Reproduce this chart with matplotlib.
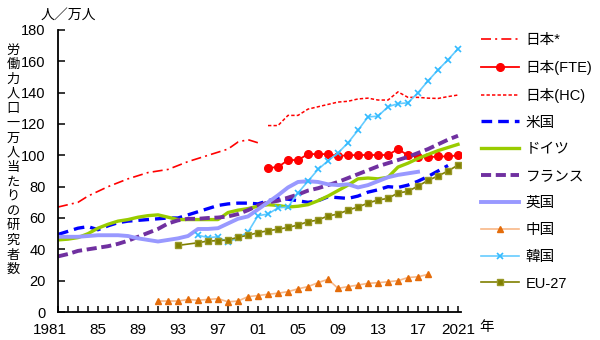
import matplotlib
matplotlib.use("Agg")
import matplotlib.pyplot as plt
from matplotlib.transforms import ScaledTranslation

plt.rcParams['font.family'] = ['Liberation Sans', 'Noto Sans CJK JP']

# ---- data: researchers per 10,000 labour force ----
years_jp_old = list(range(1981, 2002))
japan_old = [67, 68.5, 70, 74, 77, 80, 82.5, 85, 87, 89,
             90, 91, 93.5, 96, 98, 100, 102, 104, 108.5, 110, 108]

years_jp_new = list(range(2002, 2022))
japan_fte = [92, 92.5, 97, 97, 100.8, 100.8, 100.8, 99.6, 100, 100.2,
             100.2, 100.2, 100.2, 104, 100, 99, 98.7, 99.3, 99.3, 100]
japan_hc = [119, 119, 125.5, 125.5, 129.5, 131, 132.5, 134, 134.5, 136,
            136.5, 135.3, 135.3, 140.5, 137, 137, 136.5, 136.3, 137.5, 138.5]

years_us = list(range(1981, 2021))
usa = [49.5, 51.5, 53.5, 54.5, 52.5, 55, 57, 58, 58.5, 59,
       59.5, 60, 60, 62, 64, 66, 68, 69, 69.5, 69.5,
       69, 71, 72.5, 72, 71, 70, 71, 73.5, 73, 72.5,
       74, 76.5, 78, 80, 79.5, 81, 83.5, 86.5, 90, 93.5]

years_all = list(range(1981, 2022))
germany = [46, 46.5, 47.5, 50, 53.5, 56, 58, 59, 60.5, 61.5,
           62, 60.5, 59, 59, 59, 59, 59, 63.5, 65, 66,
           67.5, 68.5, 68, 67, 67.5, 68.5, 71, 74, 77.5, 81,
           85, 85.5, 85, 86, 92.5, 95, 98, 100.5, 103, 105, 107]
france = [35.5, 37, 39, 40, 41, 42, 43.5, 45.5, 48, 50.5,
          53, 56.5, 58.5, 59.5, 59.5, 60, 60.3, 61, 62.5, 65,
          68, 70, 71, 73, 75, 77.5, 79, 81, 83, 85.5,
          88, 90.5, 93, 95, 97, 99, 101.5, 104, 107, 110, 112.5]

years_uk = list(range(1981, 2018))
uk = [48, 48, 48, 48.5, 49, 49, 49, 48.5, 47, 46,
      45, 46, 47, 48.5, 53, 53, 53.5, 56.5, 59.5, 61,
      65.5, 70, 74.5, 79.5, 83, 83.5, 83, 81.5, 81, 81.5,
      79.5, 81, 83.5, 86, 87.5, 88.5, 89.5]

years_cn = list(range(1991, 2019))
china = [7, 7, 7, 8, 7.5, 8, 8.5, 6.5, 7, 9.8,
         10.5, 11.3, 12, 13, 14.8, 16.2, 18.7, 20.9, 15.1, 16.2,
         17.2, 18.3, 18.7, 19.3, 20, 22, 22.5, 24]

years_kr = list(range(1995, 2022))
korea = [49, 47.5, 48, 44.5, 47.5, 51, 61.5, 62.5, 66.5, 67,
         76, 83.5, 91, 96.5, 101.5, 108, 116, 124.5, 125, 131,
         133, 133.5, 140, 147.5, 154.5, 161, 168]

years_eu = [1993] + list(range(1995, 2022))
eu27 = [42.5, 44.2, 45.3, 45.5, 46, 47.7, 49, 50.6, 51.9, 52.8,
        54, 55.5, 57.6, 58.7, 61.3, 62.5, 65, 67, 69.5, 71.5,
        72.5, 76, 77, 80.4, 84, 86.8, 90, 93.8]

labels = ["日本*", "日本(FTE)", "日本(HC)", "米国", "ドイツ", "フランス",
          "英国", "中国", "韓国", "EU-27"]

major_years = [1981, 1985, 1989, 1993, 1997, 2001, 2005, 2009, 2013, 2017, 2021]
major_labels = ["1981", "85", "89", "93", "97", "01", "05", "09", "13", "17", "2021"]

# ---- figure ----
fig = plt.figure(figsize=(6.0, 3.4), dpi=100)
ax = fig.add_axes([58 / 600, 1 - 312 / 340, 403 / 600, 282 / 340])

ax.plot(years_jp_old, japan_old, color="#FF0000", lw=1.2,
        dashes=(6, 2.5, 1.2, 2.5), label=labels[0])
ax.plot(years_jp_new, japan_fte, color="#FF0000", lw=1.3,
        marker="o", ms=5.5, label=labels[1])
ax.plot(years_jp_new, japan_hc, color="#FF0000", lw=1.1,
        dashes=(2.2, 1.4), label=labels[2])
ax.plot(years_us, usa, color="#0000FF", lw=2.4,
        dashes=(3.2, 1.8), label=labels[3])
ax.plot(years_all, germany, color="#99CC00", lw=2.4, label=labels[4])
ax.plot(years_all, france, color="#7030A0", lw=2.8,
        dashes=(2.6, 1.2), label=labels[5])
ax.plot(years_uk, uk, color="#9999FF", lw=2.8, label=labels[6])
ax.plot(years_cn, china, color="#F8B888", lw=1.2, marker="^", ms=5,
        mfc="#E46C0A", mec="#E46C0A", label=labels[7])
ax.plot(years_kr, korea, color="#66CCFF", lw=1.2, marker="x", ms=4.5,
        mew=1.2, mec="#33BBFF", label=labels[8])
ax.plot(years_eu, eu27, color="#7F7F00", lw=1.2, marker="s", ms=4.5,
        mfc="#808000", mec="#99992A", label=labels[9])

ax.set_xlim(1981, 2021.3)
ax.set_ylim(0, 180)
ax.set_yticks(range(0, 181, 20))
ax.set_xticks(major_years)
ax.set_xticklabels(major_labels)
ax.set_xticks(range(1981, 2022), minor=True)

for side in ("top", "right"):
    ax.spines[side].set_visible(False)
for side in ("left", "bottom"):
    ax.spines[side].set_linewidth(1.3)
    ax.spines[side].set_color("black")

ax.tick_params(axis="both", which="both", direction="in", color="black",
               width=1.1, labelsize=10.5)
ax.tick_params(axis="x", labelsize=11)
ax.tick_params(axis="y", which="major", length=5, pad=9)
ax.tick_params(axis="x", which="major", length=4, pad=8)
ax.tick_params(axis="x", which="minor", length=4)

# the first year label sits a little left of its tick
first = ax.get_xticklabels()[0]
first.set_transform(first.get_transform() +
                    ScaledTranslation(-8 / 100, 0, fig.dpi_scale_trans))

# unit and axis captions
fig.text(68 / 600, 1 - 15 / 340, "人／万人", ha="center", va="center",
         fontsize=10, family=["Noto Sans CJK JP"])
fig.text(487 / 600, 1 - 327 / 340, "年", ha="center", va="center",
         fontsize=10.5, family=["Noto Sans CJK JP"])
ylabel = "労働力人口一万人当たりの研究者数"
for i, ch in enumerate(ylabel):
    fig.text(13 / 600, 1 - (50 + i * 14.65) / 340, ch, ha="center",
             va="center", fontsize=9.5, family=["Noto Sans CJK JP"])

ax.legend(loc="upper left", bbox_to_anchor=(481 / 600, 1 - 33 / 340),
          bbox_transform=fig.transFigure, frameon=False, fontsize=10.5,
          handlelength=2.6, handletextpad=0.45, labelspacing=0.88,
          borderpad=0, borderaxespad=0)

fig.savefig("out.png", dpi=100, facecolor="white")
